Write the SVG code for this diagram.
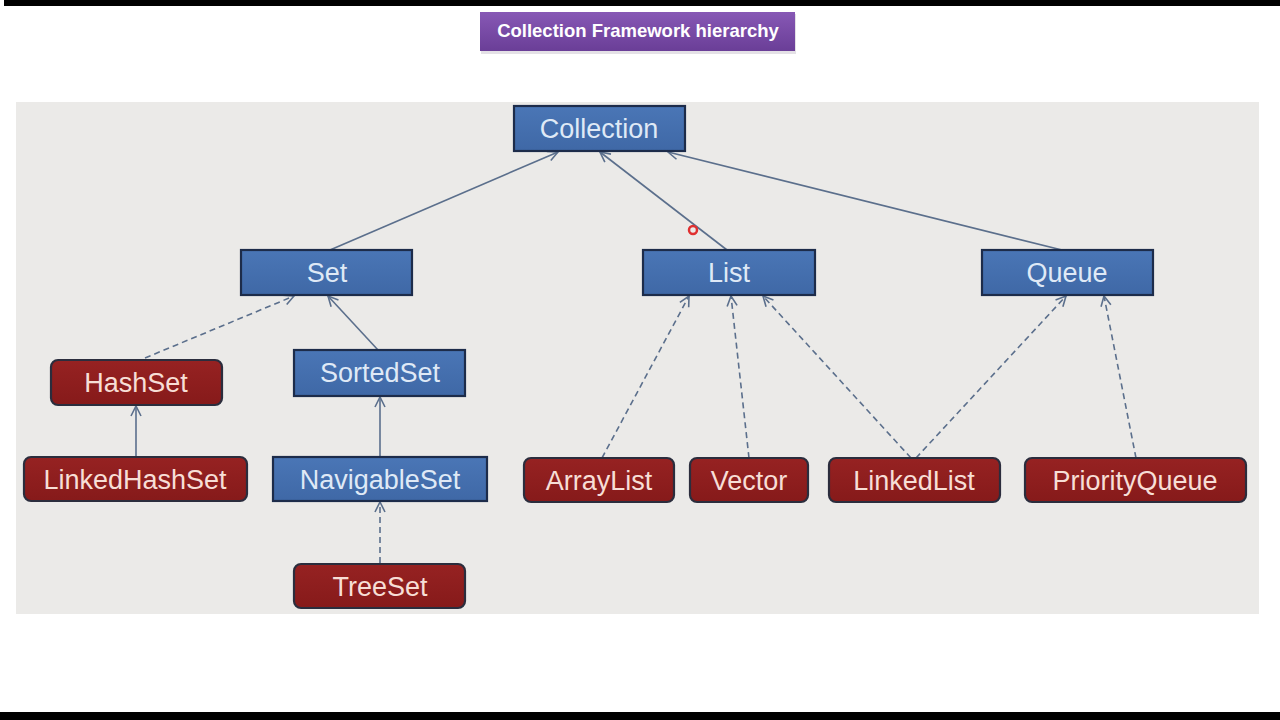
<svg xmlns="http://www.w3.org/2000/svg" width="1280" height="720" viewBox="0 0 1280 720">
<defs>
<linearGradient id="gTitle" x1="0" y1="0" x2="0" y2="1">
<stop offset="0" stop-color="#8758b5"/>
<stop offset="1" stop-color="#6a3e97"/>
</linearGradient>
<linearGradient id="gBlue" x1="0" y1="0" x2="0" y2="1">
<stop offset="0" stop-color="#4a76b6"/>
<stop offset="1" stop-color="#3f68a6"/>
</linearGradient>
<linearGradient id="gRed" x1="0" y1="0" x2="0" y2="1">
<stop offset="0" stop-color="#962222"/>
<stop offset="1" stop-color="#861a1a"/>
</linearGradient>
<marker id="arr" viewBox="0 0 12 12" refX="11" refY="6" markerWidth="12" markerHeight="12" markerUnits="userSpaceOnUse" orient="auto">
<path d="M1,1 L11,6 L1,11" fill="none" stroke="#5b6f8c" stroke-width="1.6"/>
</marker>
</defs>
<style>
.blue{fill:url(#gBlue);stroke:#1d2c4a;stroke-width:2.2}
.red{fill:url(#gRed);stroke:#2b2d3d;stroke-width:2.2}
.tb{font-family:"Liberation Sans",Arial,sans-serif;font-size:27px;fill:#dfe9f6;text-anchor:middle}
.tr{font-family:"Liberation Sans",Arial,sans-serif;font-size:27px;fill:#f7ded6;text-anchor:middle}
.c{fill:none;stroke:#5b6f8c;stroke-width:1.6;marker-end:url(#arr)}
.d{stroke-dasharray:6 4}
</style>
<rect x="0" y="0" width="1280" height="720" fill="#ffffff"/>
<rect x="4" y="0" width="1276" height="6" fill="#000"/>
<rect x="0" y="712" width="1280" height="8" fill="#000"/>
<rect x="16" y="102" width="1243" height="512" fill="#ebeae8"/>

<g id="title">
<rect x="481" y="14" width="315" height="40" fill="#d8d4dc" opacity="0.7"/>
<rect x="480" y="12" width="315" height="39" fill="url(#gTitle)"/>
<text x="638" y="37" font-family="Liberation Sans,Arial,sans-serif" font-size="18.5" font-weight="bold" fill="#ffffff" text-anchor="middle">Collection Framework hierarchy</text>
</g>

<g id="connectors">
<line class="c" x1="330" y1="250" x2="558" y2="152"/>
<line class="c" x1="727" y1="250" x2="600" y2="152"/>
<line class="c" x1="1062" y1="250" x2="668" y2="152"/>
<line class="c d" x1="145" y1="358" x2="294" y2="296"/>
<line class="c" x1="378" y1="350" x2="328" y2="296"/>
<line class="c" x1="136" y1="457" x2="136" y2="406"/>
<line class="c" x1="380" y1="457" x2="380" y2="397"/>
<line class="c d" x1="380" y1="563" x2="380" y2="502"/>
<line class="c d" x1="602" y1="458" x2="689" y2="296"/>
<line class="c d" x1="749" y1="458" x2="731" y2="296"/>
<line class="c d" x1="911" y1="458" x2="763" y2="296"/>
<line class="c d" x1="916" y1="458" x2="1066" y2="296"/>
<line class="c d" x1="1136" y1="458" x2="1104" y2="296"/>
</g>

<g id="collection"><rect class="blue" x="514" y="106" width="171" height="45"/><text class="tb" x="599" y="138">Collection</text></g>
<g id="set"><rect class="blue" x="241" y="250" width="171" height="45"/><text class="tb" x="327" y="282">Set</text></g>
<g id="list"><rect class="blue" x="643" y="250" width="172" height="45"/><text class="tb" x="729" y="282">List</text></g>
<g id="queue"><rect class="blue" x="982" y="250" width="171" height="45"/><text class="tb" x="1067" y="282">Queue</text></g>
<g id="hashset"><rect class="red" x="51" y="360" width="171" height="45" rx="7"/><text class="tr" x="136" y="392">HashSet</text></g>
<g id="sortedset"><rect class="blue" x="294" y="350" width="171" height="46"/><text class="tb" x="380" y="382">SortedSet</text></g>
<g id="linkedhashset"><rect class="red" x="24" y="457" width="223" height="44" rx="7"/><text class="tr" x="135" y="489">LinkedHashSet</text></g>
<g id="navigableset"><rect class="blue" x="273" y="457" width="214" height="44"/><text class="tb" x="380" y="489">NavigableSet</text></g>
<g id="treeset"><rect class="red" x="294" y="564" width="171" height="44" rx="7"/><text class="tr" x="380" y="596">TreeSet</text></g>
<g id="arraylist"><rect class="red" x="524" y="458" width="150" height="44" rx="7"/><text class="tr" x="599" y="490">ArrayList</text></g>
<g id="vector"><rect class="red" x="690" y="458" width="118" height="44" rx="7"/><text class="tr" x="749" y="490">Vector</text></g>
<g id="linkedlist"><rect class="red" x="829" y="458" width="171" height="44" rx="7"/><text class="tr" x="914" y="490">LinkedList</text></g>
<g id="priorityqueue"><rect class="red" x="1025" y="458" width="221" height="44" rx="7"/><text class="tr" x="1135" y="490">PriorityQueue</text></g>

<circle cx="693" cy="230" r="4" fill="none" stroke="#e03030" stroke-width="2.5"/>
</svg>
